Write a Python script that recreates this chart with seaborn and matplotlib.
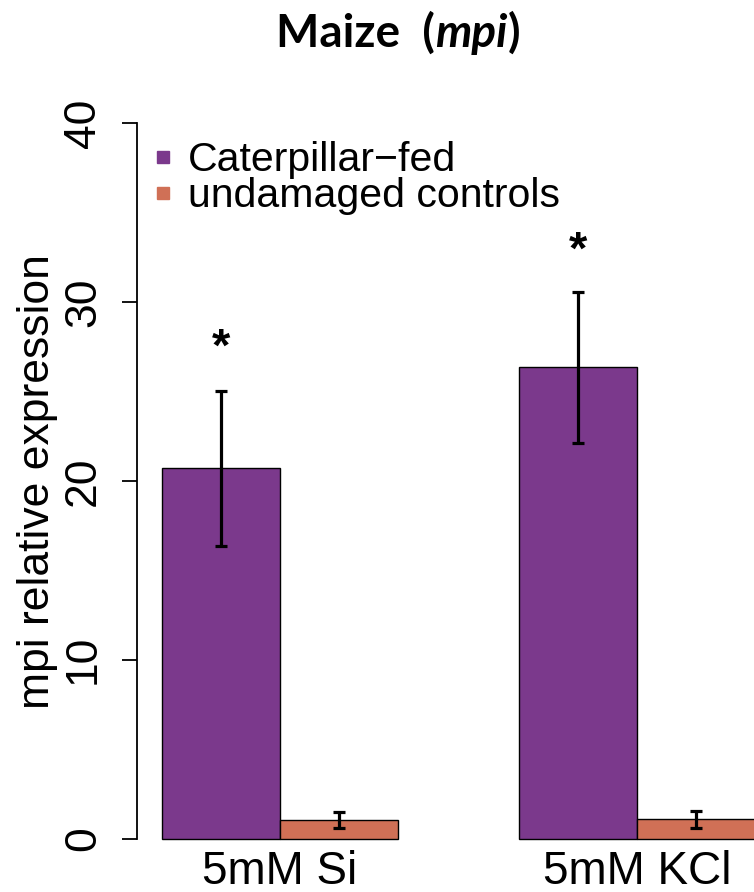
import matplotlib
matplotlib.use("Agg")
import matplotlib.pyplot as plt
import seaborn as sns
import pandas as pd
from matplotlib.lines import Line2D

# ---- data ----
treatments = ["5mM Si", "5mM KCl"]
groups = ["Caterpillar\u2212fed", "undamaged controls"]
caterpillar_mean = [20.7, 26.35]
caterpillar_se = [4.33, 4.2]
control_mean = [1.03, 1.07]
control_se = [0.46, 0.49]
star_y = [27.4, 32.8]
y_ticks = [0, 10, 20, 30, 40]
colors = ["#7B398C", "#D07056"]

df = pd.DataFrame({
    "treatment": treatments * 2,
    "group": [groups[0]] * 2 + [groups[1]] * 2,
    "value": caterpillar_mean + control_mean,
    "se": caterpillar_se + control_se,
})

sns.set_style("white")
plt.rcParams["font.family"] = ["Liberation Sans", "DejaVu Sans"]
plt.rcParams["text.color"] = "black"
plt.rcParams["axes.labelcolor"] = "black"
plt.rcParams["xtick.color"] = "black"
plt.rcParams["ytick.color"] = "black"

W, H = 754, 892
fig = plt.figure(figsize=(W / 100, H / 100), dpi=100)
ax = fig.add_axes([137 / W, (H - 838.5) / H, (W - 137) / W, 715 / H])

sns.barplot(data=df, x="treatment", y="value", hue="group", order=treatments,
            hue_order=groups, palette=colors, width=0.66, edgecolor="black",
            linewidth=1.0, saturation=1, errorbar=None, legend=False, ax=ax)

se_map = dict(zip(df["value"], df["se"]))
cat_x = []
for p in ax.patches:
    p.set_clip_on(False)
    h = p.get_height()
    xc = p.get_x() + p.get_width() / 2
    key = min(se_map, key=lambda v: abs(v - h))
    se = se_map[key]
    eb = ax.errorbar(xc, h, yerr=se, fmt="none", ecolor="black", elinewidth=2.3,
                     capsize=4.5, capthick=2.3)
    for art in eb.lines[1] + eb.lines[2]:
        art.set_clip_on(False)
    if any(abs(h - m) < 1e-6 for m in caterpillar_mean):
        cat_x.append((xc, h))

cat_x.sort()
for (xc, h), sy in zip(cat_x, star_y):
    ax.text(xc, sy, "*", ha="center", va="center", fontsize=34,
            fontweight="bold", color="black")

ax.set_xlim(-0.4006, 1.328)
ax.set_ylim(0, 40)
sns.despine(ax=ax, bottom=True)
ax.spines["left"].set_bounds(0, 40)
ax.spines["left"].set_linewidth(1.3)
ax.spines["left"].set_color("black")

ax.set_yticks(y_ticks)
ax.set_yticklabels([str(t) for t in y_ticks], rotation=90, va="center", fontsize=32)
ax.tick_params(axis="y", left=True, length=10.8, width=1.3, pad=13,
               direction="out", colors="black")
ax.tick_params(axis="x", length=0, pad=8, labelsize=33, colors="black")
ax.set_xlabel("")
ax.set_ylabel("")

fig.text(38 / W, 1 - 482 / H, "mpi relative expression", rotation=90,
         ha="center", va="center", fontsize=32, color="black")

handles = [Line2D([], [], marker="s", linestyle="none", markersize=8.5,
                  markerfacecolor=c, markeredgecolor=c) for c in colors]
leg = ax.legend(handles, groups, loc="upper left", bbox_to_anchor=(151 / W, 1 - 141 / H),
                bbox_transform=fig.transFigure, frameon=False, fontsize=29.5,
                handlelength=0.6, handletextpad=0.3, labelspacing=-0.05,
                borderpad=0, borderaxespad=0)
for t in leg.get_texts():
    t.set_color("black")

# ---- title with bold-italic part ----
fig.canvas.draw()
renderer = fig.canvas.get_renderer()
base_y = 1 - 47 / H
pieces = [("Maize  (", "normal"), ("mpi", "italic"), (")", "normal")]
texts = []
x = 0.0
for s, st in pieces:
    t = fig.text(x, base_y, s, fontsize=33, fontweight="bold", style=st,
                 family=["Lato", "DejaVu Sans"], ha="left", va="baseline",
                 color="black")
    bb = t.get_window_extent(renderer)
    texts.append(t)
    x += bb.width / W
total = x
start = 398 / W - total / 2
cur = start
for t in texts:
    bb = t.get_window_extent(renderer)
    t.set_x(cur)
    cur += bb.width / W

fig.savefig("out.png", dpi=100)
